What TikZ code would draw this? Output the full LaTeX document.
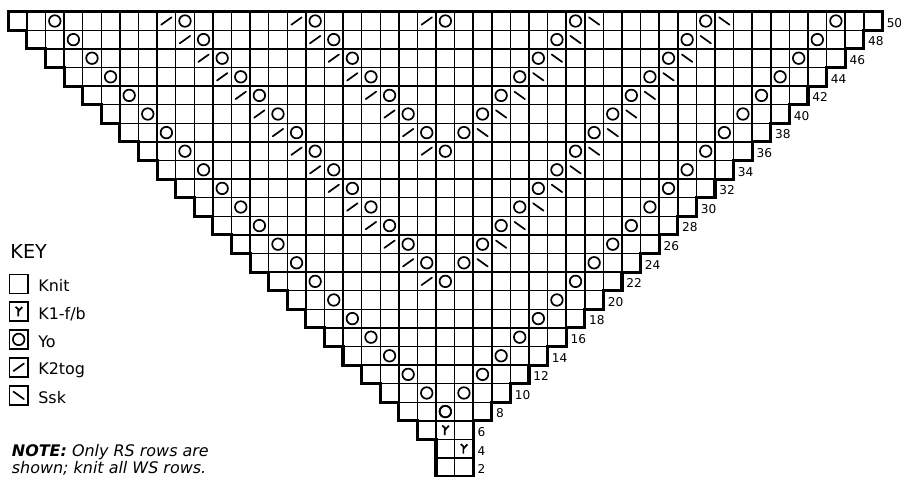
\documentclass[tikz,border=0pt]{standalone}
\usepackage{fontspec}
\setmainfont{DejaVu Sans}
\tikzset{
  yo/.pic={\draw[sym] (0,0) circle (0.31);},
  ktog/.pic={\draw[sym] (-0.28,-0.2) -- (0.28,0.2);},
  ssk/.pic={\draw[sym] (-0.28,0.2) -- (0.28,-0.2);},
  kfb/.pic={\draw[sym,line cap=butt] (-0.17,0.25) -- (-0.03,0.13) -- (-0.03,-0.26)
    (-0.03,0.0) -- (0.19,0.24);}
}
\begin{document}
\begin{tikzpicture}[x=0.5cm,y=0.5cm,
  cell/.style={line width=1.15pt},
  rim/.style={line width=2.4pt,line join=miter},
  sym/.style={line width=1.3pt,line cap=round},
  keybox/.style={draw,line width=1.1pt,minimum size=0.51cm,inner sep=0pt},
  keytext/.style={anchor=base west,inner sep=0pt,font=\fontsize{12.2}{14.5}\selectfont},
  rowno/.style={anchor=west,inner sep=0pt,font=\fontsize{9.3}{10}\selectfont}]
\useasboundingbox (-0.446,-0.015) rectangle (48.0,25.63);
%\draw[help lines] (0,0) grid (47,25);

% chart grid
\foreach \r in {0,...,25} {
  \pgfmathtruncatemacro\lft{\r==25 ? 0 : min(24-\r,23)}
  \pgfmathtruncatemacro\rgt{\r==25 ? 47 : max(23+\r,25)}
  \draw[cell] (\lft,\r) -- (\rgt,\r);
}
\foreach \c in {0,...,47} {
  \pgfmathtruncatemacro\bot{(\c>22)&&(\c<26) ? 0 : max(24-\c,\c-23)}
  \draw[cell] (\c,\bot) -- (\c,25);
}
\draw[rim] (0,25) -- (47,25)
  \foreach \r in {25,...,3} { -- (22+\r,\r) -- (22+\r,\r-1) }
  -- (25,0) -- (23,0) -- (23,2)
  \foreach \r in {3,...,25} { -- (25-\r,\r-1) -- (25-\r,\r) } -- cycle;

% edge yarnovers
\foreach \r in {4,...,25} {
  \pic at (27.5-\r,\r-0.5) {yo};
  \pic at (19.5+\r,\r-0.5) {yo};
}
% k2tog lines
\foreach \k in {0,...,14} {
  \pic at (8.5+\k,24.5-\k) {ktog};
  \pic at (9.5+\k,24.5-\k) {yo};
}
\foreach \k in {0,...,7} {
  \pic at (15.5+\k,24.5-\k) {ktog};
  \pic at (16.5+\k,24.5-\k) {yo};
}
\pic at (22.5,24.5) {ktog};
\pic at (23.5,24.5) {yo};
% ssk lines
\foreach \k in {0,...,6} {
  \pic at (30.5-\k,24.5-\k) {yo};
  \pic at (31.5-\k,24.5-\k) {ssk};
}
\foreach \k in {0,...,13} {
  \pic at (37.5-\k,24.5-\k) {yo};
  \pic at (38.5-\k,24.5-\k) {ssk};
}
\pic at (23.5,2.5) {kfb};
\pic at (24.5,1.5) {kfb};

% row numbers
\foreach \r in {1,...,25} {
  \pgfmathtruncatemacro\n{2*\r}
  \pgfmathtruncatemacro\rx{max(22+\r,25)}
  \node[rowno] (row\n) at (\rx+0.22,\r-0.6) {\n};
}

% key
\node[anchor=base west,inner sep=0pt,font=\fontsize{14.7}{16}\selectfont] (key) at (0.1,11.71) {KEY};
\node[keybox] (knitbox) at (0.56,10.36) {};
\node[keybox] (kfbbox) at (0.56,8.88) {};
\node[keybox] (yobox) at (0.56,7.38) {};
\node[keybox] (ktogbox) at (0.56,5.88) {};
\node[keybox] (sskbox) at (0.56,4.37) {};
\pic at (kfbbox) {kfb};
\pic at (yobox) {yo};
\pic at (ktogbox) {ktog};
\pic at (sskbox) {ssk};
\node[keytext] (knit) at (1.6,9.95) {Knit};
\node[keytext] (kfb) at (1.6,8.47) {K1-f/b};
\node[keytext] (yo) at (1.6,6.97) {Yo};
\node[keytext] (ktog) at (1.6,5.47) {K2tog};
\node[keytext] (ssk) at (1.6,3.96) {Ssk};

\node[keytext] (note) at (0.18,1.08) {\textbf{\textit{NOTE:}} \textit{Only RS rows are}};
\node[keytext] (note2) at (0.18,0.17) {\textit{shown; knit all WS rows.}};
\end{tikzpicture}
\end{document}
